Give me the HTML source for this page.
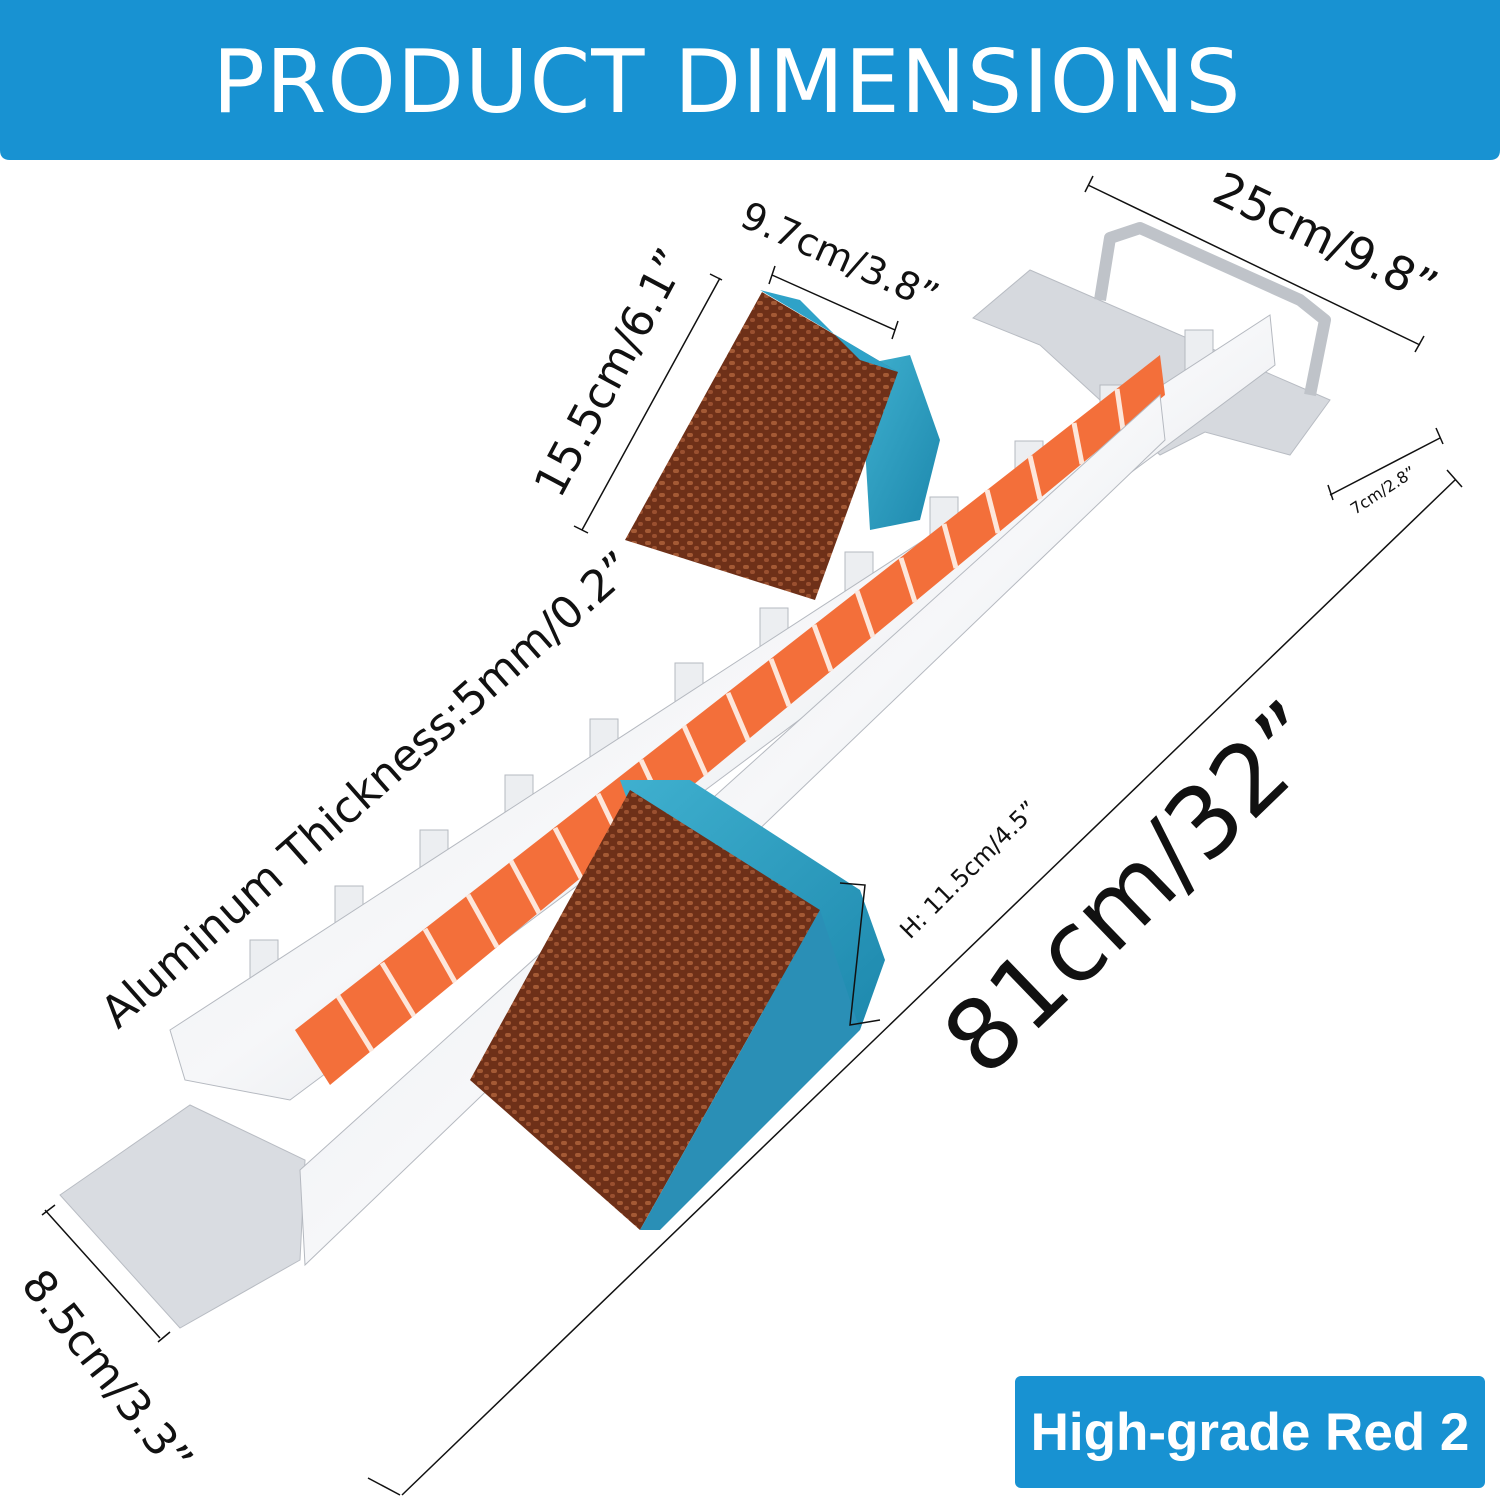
<!DOCTYPE html>
<html><head><meta charset="utf-8"><style>
html,body{margin:0;padding:0;background:#fff;width:1500px;height:1500px;overflow:hidden}
svg{display:block}
</style></head><body>
<svg width="1500" height="1500" viewBox="0 0 1500 1500" xmlns="http://www.w3.org/2000/svg" font-family="DejaVu Sans, Liberation Sans, sans-serif">
<defs>
<linearGradient id="al" x1="0" y1="0" x2="1" y2="1">
<stop offset="0" stop-color="#e4e6ea"/><stop offset="0.5" stop-color="#f6f7f9"/><stop offset="1" stop-color="#c9ccd2"/>
</linearGradient>
<linearGradient id="bl" x1="0" y1="0" x2="1" y2="1">
<stop offset="0" stop-color="#3fb0cf"/><stop offset="1" stop-color="#1d88ad"/>
</linearGradient>
<pattern id="tex" width="14" height="12" patternUnits="userSpaceOnUse">
<rect width="14" height="12" fill="#6e3018"/>
<rect x="1" y="1" width="6" height="4" rx="2" fill="#a45a35"/>
<rect x="8" y="6" width="5" height="4" rx="2" fill="#9a5030"/>
</pattern>
</defs>
<path d="M0 0H1500V150Q1500 160 1490 160H10Q0 160 0 150Z" fill="#1892d2"/>
<text x="727" y="112" font-size="87" fill="#fff" text-anchor="middle" style="font-family:'DejaVu Sans',sans-serif" letter-spacing="1">PRODUCT DIMENSIONS</text>

<polygon points="973,318 1030,270 1330,400 1290,455 1205,432 1160,455 1040,345" fill="#d6d9de" stroke="#b8bcc3"/>
<path d="M1100 300 L1110 238 L1140 228 L1300 300 L1325 320 L1310 395" fill="none" stroke="#bfc3c9" stroke-width="12" stroke-linejoin="round"/>
<polygon points="60,1195 190,1105 305,1160 300,1260 180,1328" fill="#d9dce1" stroke="#b8bcc3"/>
<g fill="#eceef1" stroke="#b5b9c0">
<rect x="250" y="940" width="28" height="45"/><rect x="335" y="886" width="28" height="45"/><rect x="420" y="830" width="28" height="45"/><rect x="505" y="775" width="28" height="45"/><rect x="590" y="719" width="28" height="45"/><rect x="675" y="663" width="28" height="45"/><rect x="760" y="608" width="28" height="45"/><rect x="845" y="552" width="28" height="45"/><rect x="930" y="497" width="28" height="45"/><rect x="1015" y="441" width="28" height="45"/><rect x="1100" y="385" width="28" height="45"/><rect x="1185" y="330" width="28" height="45"/>
</g>
<polygon points="170,1030 1270,315 1275,365 290,1100 185,1080" fill="url(#al)" stroke="#b5b9c0"/>
<polygon points="295,1030 1160,355 1165,395 330,1085" fill="#f36f3a"/>
<g stroke="#fde6da" stroke-width="5">
<line x1="338" y1="996" x2="372" y2="1051"/><line x1="382" y1="963" x2="414" y2="1016"/><line x1="425" y1="929" x2="455" y2="982"/><line x1="468" y1="895" x2="497" y2="947"/><line x1="511" y1="861" x2="539" y2="913"/><line x1="555" y1="828" x2="581" y2="878"/><line x1="598" y1="794" x2="622" y2="844"/><line x1="641" y1="760" x2="664" y2="809"/><line x1="684" y1="726" x2="706" y2="775"/><line x1="728" y1="693" x2="748" y2="740"/><line x1="771" y1="659" x2="789" y2="706"/><line x1="814" y1="625" x2="831" y2="671"/><line x1="857" y1="591" x2="873" y2="637"/><line x1="901" y1="558" x2="915" y2="602"/><line x1="944" y1="524" x2="956" y2="568"/><line x1="987" y1="490" x2="998" y2="533"/><line x1="1030" y1="456" x2="1040" y2="499"/><line x1="1074" y1="423" x2="1082" y2="464"/><line x1="1117" y1="389" x2="1123" y2="430"/>
</g>
<polygon points="300,1170 1160,395 1165,440 305,1265" fill="url(#al)" stroke="#b5b9c0"/>
<polygon points="860,365 910,355 940,440 920,520 870,530" fill="url(#bl)"/>
<polygon points="625,540 762,292 898,372 815,600" fill="url(#tex)"/>
<polygon points="760,290 800,300 860,360 898,372" fill="#2fa2c8"/>
<polygon points="620,780 690,780 860,890 885,960 860,1030 700,1000" fill="url(#bl)"/>
<polygon points="470,1080 630,790 820,910 640,1230" fill="url(#tex)"/>
<polygon points="640,1230 820,910 860,1030 660,1230" fill="#2a8fb6"/>

<g stroke="#111" stroke-width="1.5" fill="none">
<path d="M1088 185 L1420 345 M1085 192 L1093 176 M1415 352 L1424 336"/>
<path d="M772 275 L895 330 M769 284 L775 266 M892 339 L898 321"/>
<path d="M720 278 L582 530 M710 274 L722 280 M574 526 L588 533"/>
<path d="M1330 495 L1440 438 M1328 485 L1333 500 M1436 428 L1443 444"/>
<path d="M1455 480 L402 1495 M1447 470 L1462 487 M368 1478 L400 1495"/>
<path d="M45 1210 L160 1338 M42 1215 L55 1205 M158 1342 L170 1332"/>
<path d="M840 883 L865 885 L850 1025 L880 1020"/>
</g>

<text font-size="46" fill="#111" transform="translate(1210,200) rotate(25.7)">25cm/9.8”</text>
<text font-size="38" fill="#111" transform="translate(738,225) rotate(24)">9.7cm/3.8”</text>
<text font-size="44" fill="#111" transform="translate(560,500) rotate(-62)">15.5cm/6.1”</text>
<text font-size="16" fill="#111" transform="translate(1355,515) rotate(-33)">7cm/2.8”</text>
<text font-size="44" fill="#111" transform="translate(118,1030) rotate(-41.5)">Aluminum Thickness:5mm/0.2”</text>
<text font-size="24" fill="#111" transform="translate(910,940) rotate(-45)">H: 11.5cm/4.5”</text>
<text font-size="98" fill="#111" transform="translate(985,1080) rotate(-44)">81cm/32”</text>
<text font-size="44" fill="#111" transform="translate(20,1285) rotate(52)">8.5cm/3.3”</text>

<rect x="1015" y="1376" width="470" height="112" rx="6" fill="#1892d2"/>
<text x="1250" y="1450" font-size="53" font-weight="bold" fill="#fff" text-anchor="middle" style="font-family:'Liberation Sans',sans-serif">High-grade Red 2</text>
</svg>
</body></html>
